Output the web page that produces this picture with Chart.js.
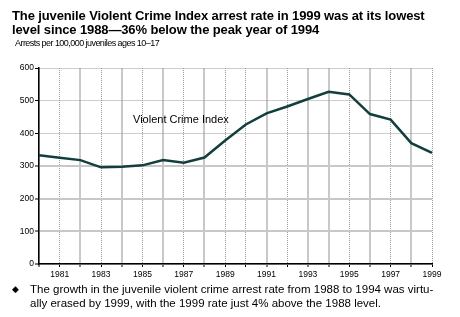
<!DOCTYPE html>
<html>
<head>
<meta charset="utf-8">
<script src="https://cdn.jsdelivr.net/npm/chart.js@4"></script>
<style>
  body { margin: 0; background: #fff; }
  #wrap { position: relative; width: 460px; height: 317px; font-family: "Liberation Sans", Arial, sans-serif; color: #000; }
  #c { position: absolute; left: 0; top: 0; }
  .txt { position: absolute; white-space: nowrap; }
  .title { left: 12px; top: 9px; font-weight: bold; font-size: 13px; line-height: 13.5px; letter-spacing: -0.12px; }
  .ytitle { left: 15px; top: 38px; font-size: 9px; line-height: 10px; letter-spacing: -0.55px; }
  .series { left: 133px; top: 113px; font-size: 11px; line-height: 12px; }
  .note { left: 30px; top: 283px; font-size: 11.5px; line-height: 13.5px; }
  .bullet { left: 12px; top: 283px; font-size: 9px; line-height: 13.5px; font-family: "DejaVu Sans", sans-serif; }
</style>
</head>
<body>
<div id="wrap">
  <canvas id="c" width="460" height="317"></canvas>
  <div class="txt title">The juvenile Violent Crime Index arrest rate in 1999 was at its lowest<br>level since 1988—36% below the peak year of 1994</div>
  <div class="txt ytitle">Arrests per 100,000 juveniles ages 10–17</div>
  <div class="txt series">Violent Crime Index</div>
  <div class="txt bullet">◆</div>
  <div class="txt note">The growth in the juvenile violent crime arrest rate from 1988 to 1994 was virtu-<br>ally erased by 1999, with the 1999 rate just 4% above the 1988 level.</div>
</div>
<script>
// data
const years = ['1980', '1981', '1982', '1983', '1984', '1985', '1986', '1987', '1988', '1989',
               '1990', '1991', '1992', '1993', '1994', '1995', '1996', '1997', '1998', '1999'];
const arrestRate = [333, 325, 318, 296, 298, 302, 318, 310, 326, 378,
                    427, 461, 482, 505, 527, 519, 459, 442, 370, 340];
const xTickLabels = ['1981', '1983', '1985', '1987', '1989', '1991', '1993', '1995', '1997', '1999'];
const yTicks = [0, 100, 200, 300, 400, 500, 600];

// which grid lines look dotted in the original (the rest are solid light gray)
const dottedX = ['1981', '1983', '1985', '1987', '1989', '1990', '1992', '1995', '1997', '1999'];
const dottedY = [400, 500, 600];

const ctx = document.getElementById('c').getContext('2d');

new Chart(ctx, {
    type: 'line',
    data: {
        labels: years,
        datasets: [{
            data: arrestRate,
            borderColor: '#123f3e',
            borderWidth: 2.5,
            pointRadius: 0,
            tension: 0,
            fill: false
        }]
    },
    options: {
        responsive: false,
        animation: false,
        layout: { padding: { top: 68, right: 28, left: 0, bottom: 0 } },
        plugins: {
            legend: { display: false },
            tooltip: { enabled: false }
        },
        scales: {
            x: {
                offset: false,
                grid: {
                    color: (c) => c.tick && dottedX.includes(years[c.index]) ? '#9a9a9a' : '#c8c8c8',
                    lineWidth: (c) => c.tick && dottedX.includes(years[c.index]) ? 1 : 2,
                    tickLength: 3,
                    tickColor: '#000',
                    tickWidth: 1
                },
                border: {
                    display: true,
                    color: '#000',
                    width: 1.5,
                    dash: (c) => c.tick && dottedX.includes(years[c.index]) ? [1, 1] : []
                },
                ticks: {
                    autoSkip: false,
                    maxRotation: 0,
                    padding: 3,
                    color: '#000',
                    font: { family: '"Liberation Sans", Arial, sans-serif', size: 8.5 },
                    callback: (v, i) => xTickLabels.includes(years[i]) ? years[i] : ''
                },
                afterFit: (s) => { s.height = 53; s.paddingLeft = 0; s.paddingRight = 0; }
            },
            y: {
                min: 0,
                max: 600,
                afterBuildTicks: (s) => { s.ticks = yTicks.map(v => ({ value: v })); },
                grid: {
                    color: (c) => c.tick && dottedY.includes(c.tick.value) ? '#9a9a9a' : '#c8c8c8',
                    lineWidth: (c) => c.tick && dottedY.includes(c.tick.value) ? 1 : 2,
                    tickLength: 4,
                    tickColor: '#000',
                    tickWidth: 1
                },
                border: {
                    display: true,
                    color: '#000',
                    width: 1.5,
                    dash: (c) => c.tick && dottedY.includes(c.tick.value) ? [1, 1] : []
                },
                ticks: {
                    padding: 1,
                    color: '#000',
                    font: { family: '"Liberation Sans", Arial, sans-serif', size: 8.5 }
                },
                afterFit: (s) => { s.width = 39; s.paddingTop = 0; s.paddingBottom = 0; }
            }
        }
    }
});
</script>
</body>
</html>
